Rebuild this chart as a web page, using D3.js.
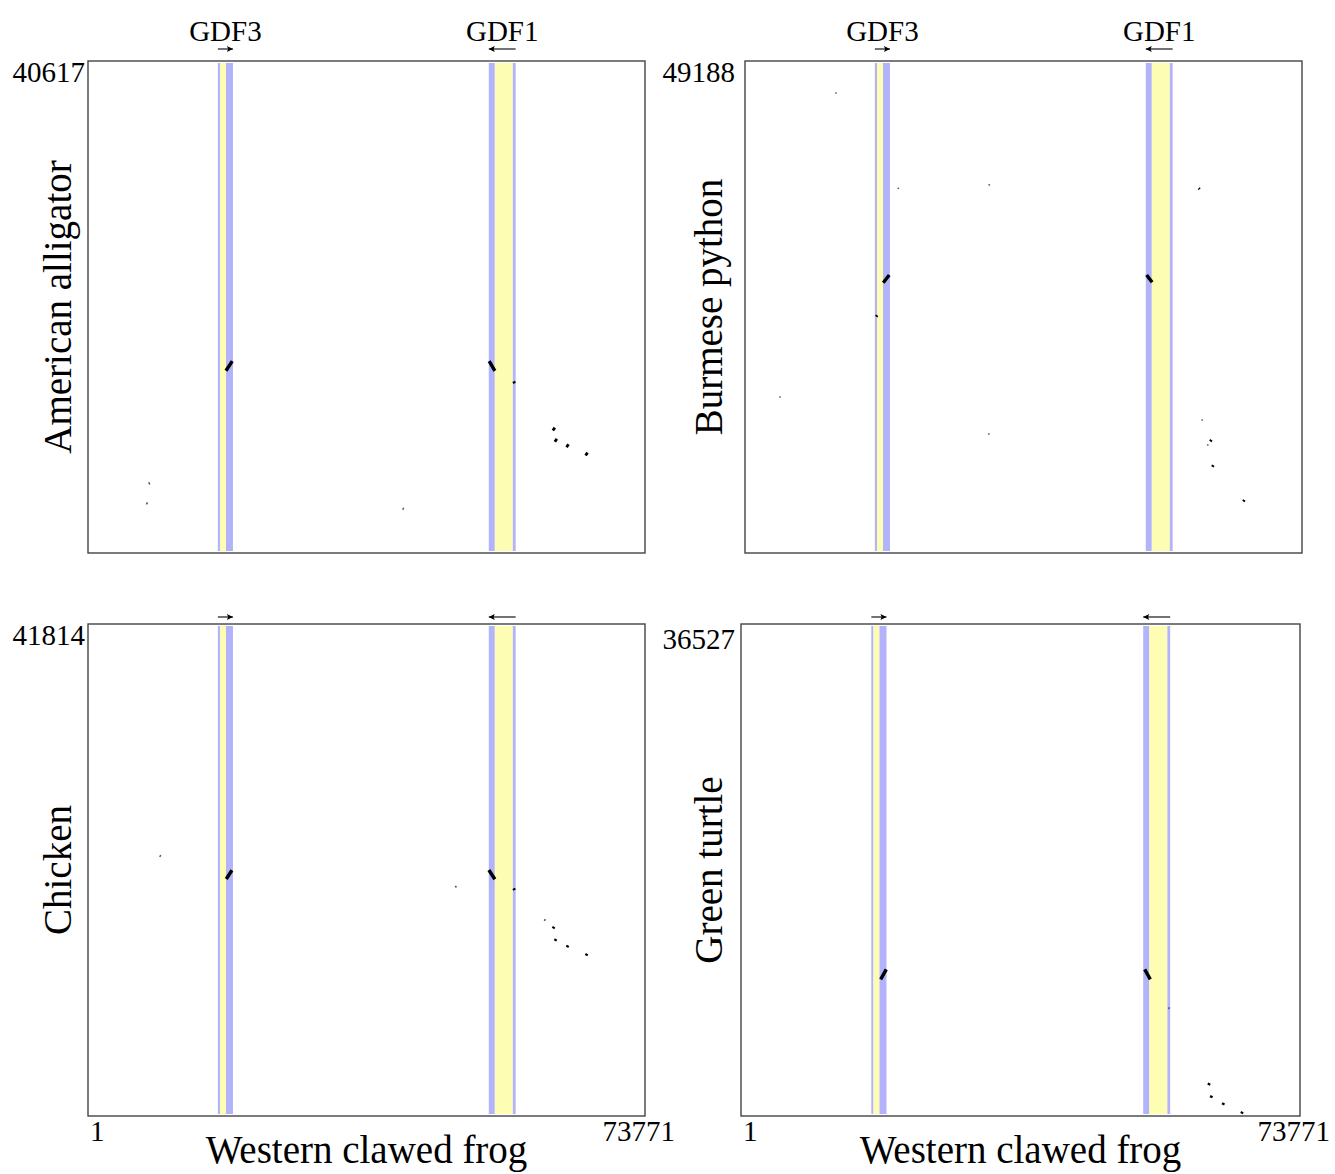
<!DOCTYPE html>
<html>
<head>
<meta charset="utf-8">
<script src="https://cdn.jsdelivr.net/npm/d3@7"></script>
<style>
  body { margin: 0; background: #fff; }
  text { font-family: "Liberation Serif", "DejaVu Serif", serif; fill: #000; }
</style>
</head>
<body>
<svg id="chart"></svg>
<script>
// Frog region on the x axis of every panel
var frogName = "Western clawed frog";
var frogLength = 73771;

// Compared species (y axis) and their region lengths
var species = ["American alligator", "Burmese python", "Chicken", "Green turtle"];
var speciesLength = [40617, 49188, 41814, 36527];

// Genes annotated on the frog sequence
var geneNames = ["GDF3", "GDF1"];
var geneStart = [17200, 53080];
var geneEnd = [19200, 56640];
var geneStrand = [1, -1];

// Gene features: [gene index, start, end, kind]
var geneFeatures = [
  [0, 17200, 17480, "exon"],
  [0, 17480, 18280, "utr"],
  [0, 18280, 19200, "exon"],
  [1, 53080, 53880, "exon"],
  [1, 53880, 56270, "utr"],
  [1, 56270, 56640, "exon"]
];

// Alignment hits: [frog start, species start, frog end, species end, score]
var hitsAlligator = [
  [18271, 15001, 19105, 15808, 3],
  [53132, 15808, 53887, 15001, 3],
  [56380, 14120, 56500, 13950, 2],
  [61570, 10030, 61830, 10270, 2],
  [61830, 9090, 62100, 9330, 2],
  [63380, 8640, 63640, 8880, 2],
  [65900, 7950, 66160, 8190, 2],
  [8050, 5720, 8180, 5540, 1],
  [7740, 3890, 7880, 4050, 1],
  [41680, 3440, 41810, 3600, 1]
];
var hitsPython = [
  [18311, 27045, 19105, 27821, 3],
  [53185, 27821, 53927, 27085, 3],
  [17370, 23620, 17500, 23760, 2],
  [20230, 36620, 20360, 36500, 1],
  [32270, 36960, 32420, 36830, 1],
  [60090, 36570, 60210, 36470, 2],
  [11980, 46100, 12110, 46230, 1],
  [4570, 15460, 4700, 15590, 1],
  [32240, 11860, 32370, 11730, 1],
  [60480, 13140, 60610, 13270, 1],
  [61630, 11040, 61770, 11200, 2],
  [61240, 10750, 61360, 10620, 1],
  [61890, 8490, 62040, 8650, 2],
  [66000, 4990, 66140, 5150, 2]
];
var hitsChicken = [
  [9500, 22040, 9640, 22180, 1],
  [18311, 20140, 19066, 20885, 3],
  [48650, 19550, 48790, 19410, 1],
  [53092, 20911, 53887, 20114, 3],
  [56380, 19330, 56500, 19180, 2],
  [60440, 16550, 60570, 16700, 1],
  [61590, 15890, 61730, 16040, 2],
  [61850, 14830, 61990, 14990, 2],
  [63440, 14290, 63580, 14450, 2],
  [65960, 13570, 66100, 13730, 2]
];
var hitsTurtle = [
  [18436, 10077, 19175, 10829, 3],
  [53276, 10829, 54015, 10077, 3],
  [56420, 7850, 56540, 7990, 1],
  [61700, 2160, 61830, 2310, 2],
  [62000, 1220, 62130, 1380, 2],
  [63580, 680, 63710, 830, 2],
  [66050, 30, 66180, 170, 2]
];
var hits = [hitsAlligator, hitsPython, hitsChicken, hitsTurtle];

var width = 1335,
    height = 1174;

// panel boxes (layout only)
var panels = [
  {left: 88,  right: 645,  top: 61,  bottom: 553, col: 0, row: 0},
  {left: 745, right: 1302, top: 61,  bottom: 553, col: 1, row: 0},
  {left: 88,  right: 645,  top: 624, bottom: 1116, col: 0, row: 1},
  {left: 741, right: 1300, top: 624, bottom: 1116, col: 1, row: 1}
];

var featureColor = d3.scaleOrdinal().domain(["exon", "utr"]).range(["#b3b3fb", "#fdfdb3"]);
var hitWidth = d3.scaleOrdinal().domain([1, 2, 3]).range([1.5, 2.8, 3.4]);
var hitColor = d3.scaleOrdinal().domain([1, 2, 3]).range(["#555", "#000", "#000"]);

var svg = d3.select("#chart")
    .attr("width", width)
    .attr("height", height);

var defs = svg.append("defs");
defs.append("marker")
    .attr("id", "head")
    .attr("viewBox", "0 0 10 10")
    .attr("refX", 10).attr("refY", 5)
    .attr("markerWidth", 8).attr("markerHeight", 6)
    .attr("markerUnits", "userSpaceOnUse")
    .attr("orient", "auto")
  .append("path")
    .attr("d", "M0,0L10,5L0,10L2,5Z")
    .attr("fill", "#000");

panels.forEach(function(p, i) {
  var x = d3.scaleLinear().domain([1, frogLength]).range([p.left, p.right]);
  var y = d3.scaleLinear().domain([1, speciesLength[i]]).range([p.bottom - 2, p.top + 2]);

  var g = svg.append("g").attr("class", "panel");

  // gene bands
  g.selectAll(".band")
      .data(geneFeatures)
      .enter().append("rect")
        .attr("class", "band")
        .attr("x", function(d) { return x(d[1]); })
        .attr("width", function(d) { return x(d[2]) - x(d[1]); })
        .attr("y", y.range()[1])
        .attr("height", y.range()[0] - y.range()[1])
        .attr("fill", function(d) { return featureColor(d[3]); });

  // frame
  g.append("rect")
      .attr("x", p.left).attr("y", p.top)
      .attr("width", p.right - p.left).attr("height", p.bottom - p.top)
      .attr("fill", "none")
      .attr("stroke", "#444")
      .attr("stroke-width", 1.4);

  // strand arrows above the frame
  var arrowY = p.row == 0 ? p.top - 12 : p.top - 7;
  geneNames.forEach(function(name, k) {
    var a = x(geneStart[k]), b = x(geneEnd[k]);
    var from = geneStrand[k] > 0 ? a : b,
        to = geneStrand[k] > 0 ? b : a;
    g.append("line")
        .attr("x1", from).attr("x2", to)
        .attr("y1", arrowY).attr("y2", arrowY)
        .attr("stroke", "#000")
        .attr("stroke-width", 1.1)
        .attr("marker-end", "url(#head)");
    if (p.row == 0) {
      g.append("text")
          .attr("x", (a + b) / 2)
          .attr("y", p.top - 20)
          .attr("text-anchor", "middle")
          .attr("font-size", 29)
          .text(name);
    }
  });

  // hits
  g.selectAll(".hit")
      .data(hits[i])
      .enter().append("line")
        .attr("class", "hit")
        .attr("x1", function(d) { return x(d[0]); })
        .attr("y1", function(d) { return y(d[1]); })
        .attr("x2", function(d) { return x(d[2]); })
        .attr("y2", function(d) { return y(d[3]); })
        .attr("stroke", function(d) { return hitColor(d[4]); })
        .attr("stroke-width", function(d) { return hitWidth(d[4]); });

  // max label of the species axis
  var labelX = p.col == 0 ? 85 : 735;
  g.append("text")
      .attr("x", labelX)
      .attr("y", p.top + 21 + (i == 3 ? 4 : 0))
      .attr("text-anchor", "end")
      .attr("font-size", 29)
      .text(speciesLength[i]);

  // species name
  var nameX = p.col == 0 ? 71 : 722;
  g.append("text")
      .attr("transform", "translate(" + nameX + "," + ((p.top + p.bottom) / 2) + ") rotate(-90)")
      .attr("text-anchor", "middle")
      .attr("font-size", 39)
      .text(species[i]);

  // frog axis labels on the bottom row
  if (p.row == 1) {
    g.append("text")
        .attr("x", p.left + 2)
        .attr("y", p.bottom + 25)
        .attr("font-size", 29)
        .text("1");
    g.append("text")
        .attr("x", p.right + 30)
        .attr("y", p.bottom + 25)
        .attr("text-anchor", "end")
        .attr("font-size", 29)
        .text(frogLength);
    g.append("text")
        .attr("x", (p.left + p.right) / 2)
        .attr("y", p.bottom + 47)
        .attr("text-anchor", "middle")
        .attr("font-size", 39)
        .text(frogName);
  }
});
</script>
</body>
</html>
